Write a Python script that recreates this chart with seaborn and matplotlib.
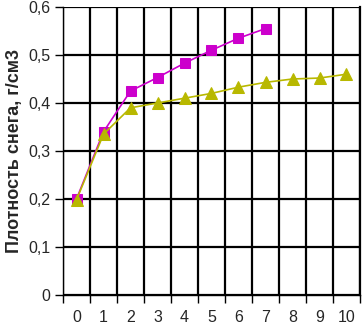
import numpy as np
import pandas as pd
import seaborn as sns
from matplotlib import pyplot as plt
from matplotlib.ticker import FixedLocator

days = list(range(11))
density_a = [0.20, 0.34, 0.425, 0.453, 0.483, 0.51, 0.535, 0.555]
density_b = [0.198, 0.335, 0.39, 0.40, 0.41, 0.42, 0.433, 0.443, 0.45, 0.452, 0.46]
y_labels = ["0", "0,1", "0,2", "0,3", "0,4", "0,5", "0,6"]

df_a = pd.DataFrame({"x": days[:len(density_a)], "y": density_a})
df_b = pd.DataFrame({"x": days[:len(density_b)], "y": density_b})

sns.set_style("white")
plt.rcParams['font.family'] = ['Liberation Sans', 'DejaVu Sans']

fig = plt.figure(figsize=(3.62, 3.27), dpi=100)
ax = fig.add_axes([63 / 362, 32 / 327, 297 / 362, 288 / 327])

sns.lineplot(data=df_a, x="x", y="y", ax=ax, color="#CC00CC", marker="s",
             markersize=7, markeredgecolor="#CC00CC", linewidth=1.2, zorder=3)
sns.lineplot(data=df_b, x="x", y="y", ax=ax, color="#B8B800", marker="^",
             markersize=8, markeredgecolor="#B8B800", linewidth=1.2, zorder=3)

ax.set_xlim(-0.5, 10.5)
ax.set_ylim(0, 0.6)
ax.set_xticks(days)
ax.set_xticklabels([str(d) for d in days], fontsize=11.5)
ax.xaxis.set_minor_locator(FixedLocator(np.arange(-0.5, 11, 1)))
ax.set_yticks(np.arange(0, 0.61, 0.1))
ax.set_yticklabels(y_labels, fontsize=11.5)

ax.tick_params(axis="x", which="major", length=0, pad=11)
ax.tick_params(axis="x", which="minor", direction="out", length=6, width=1, color="black", bottom=True)
ax.tick_params(axis="y", which="major", direction="out", length=6, width=1, color="black", left=True, pad=3)

ax.grid(False)
ax.grid(True, axis="x", which="minor", color="black", linewidth=1.6)
ax.grid(True, axis="y", which="major", color="black", linewidth=1.6)

ax.spines["top"].set_visible(False)
ax.spines["right"].set_color("black")
ax.spines["right"].set_linewidth(1.6)
ax.spines["left"].set_color("black")
ax.spines["left"].set_linewidth(1.0)
ax.spines["bottom"].set_color("black")
ax.spines["bottom"].set_linewidth(1.0)

ax.set_xlabel("")
ax.set_ylabel("Плотность снега, г/см3", fontsize=13, fontweight="bold", labelpad=4)

fig.savefig("out.png", dpi=100)
